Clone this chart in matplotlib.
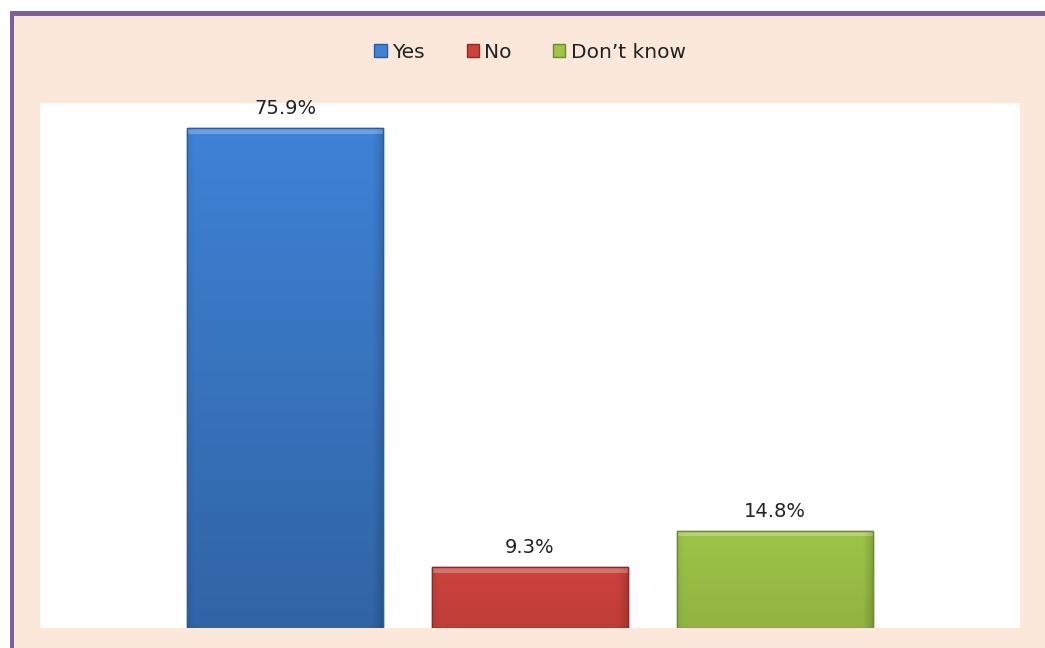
import matplotlib
matplotlib.use("Agg")
import matplotlib.pyplot as plt
from matplotlib.patches import Rectangle
import numpy as np

categories = ["Yes", "No", "Don\u2019t know"]
values = [75.9, 9.3, 14.8]
labels = ["75.9%", "9.3%", "14.8%"]
colors = ["#3F82D6", "#CE423D", "#9EC448"]
edge_colors = ["#2A5C9E", "#8E2B28", "#6E8C2E"]

W, H = 1045, 648
fig = plt.figure(figsize=(W / 100, H / 100), dpi=100)
fig.patch.set_facecolor("white")

# peach chart area with purple frame (top & left)
fig.patches.append(Rectangle((10 / W, 0), 1 - 10 / W, 1 - 11 / H, transform=fig.transFigure,
                             facecolor="#FCE8DA", edgecolor="none", zorder=-3))
fig.patches.append(Rectangle((10 / W, 1 - 16 / H), 1 - 10 / W, 5 / H, transform=fig.transFigure,
                             facecolor="#7D5F9C", edgecolor="none", zorder=-2))
fig.patches.append(Rectangle((10 / W, 0), 4 / W, 1 - 11 / H, transform=fig.transFigure,
                             facecolor="#7D5F9C", edgecolor="none", zorder=-2))

ax = fig.add_axes([40 / W, 20 / H, 980 / W, 525 / H])
ax.set_facecolor("white")
x = np.arange(len(categories))
bars = ax.bar(x, values, width=0.8, color=colors, edgecolor=edge_colors, linewidth=1.0, zorder=2)

# bevel / gradient shading on each bar
gx = np.linspace(0, 1, 256)
gy = np.linspace(0, 1, 256)  # 0 = top row, 1 = bottom row
for b, c, v in zip(bars, colors, values):
    x0, y0 = b.get_x(), b.get_y()
    w, h = b.get_width(), b.get_height()
    rgb = np.array(matplotlib.colors.to_rgb(c))
    px = 1.0 - 0.15 * np.clip((gx - 0.95) / 0.05, 0, 1) - 0.06 * np.clip((0.04 - gx) / 0.04, 0, 1)
    darken = 0.18 * (v / max(values)) + 0.05
    py = 1.0 - darken * gy
    prof = px[None, :] * py[:, None]
    img = np.clip(rgb[None, None, :] * prof[:, :, None], 0, 1)
    im = ax.imshow(img, extent=(x0, x0 + w, y0, y0 + h), aspect="auto", zorder=2.5,
                   interpolation="bilinear", origin="upper")
    im.set_clip_path(b)
    ax.add_patch(Rectangle((x0, y0 + h - 0.9), w, 0.9, facecolor="white", alpha=0.25,
                           edgecolor="none", zorder=2.6))
    ax.add_patch(Rectangle((x0, y0), w, h, facecolor="none", edgecolor=b.get_edgecolor(),
                           linewidth=1.0, zorder=2.7))

for xi, v, lab in zip(x, values, labels):
    ax.text(xi, v + 1.5, lab, ha="center", va="bottom", fontsize=14, color="#222222",
            family="DejaVu Sans")

ax.set_xlim(-1.0, 3.0)
ax.set_ylim(0, 79.7)
ax.set_xticks([])
ax.set_yticks([])
for s in ax.spines.values():
    s.set_visible(False)

handles = [Rectangle((0, 0), 1, 1, facecolor=c, edgecolor=e) for c, e in zip(colors, edge_colors)]
fig.legend(handles, categories, loc="center", bbox_to_anchor=(530 / W, 1 - 52 / H), ncol=3,
           frameon=False, fontsize=14.5, handlelength=0.6, handleheight=0.6, handletextpad=0.25,
           columnspacing=2.1, labelcolor="#222222")

fig.savefig("out.png", dpi=100, facecolor=fig.get_facecolor())
